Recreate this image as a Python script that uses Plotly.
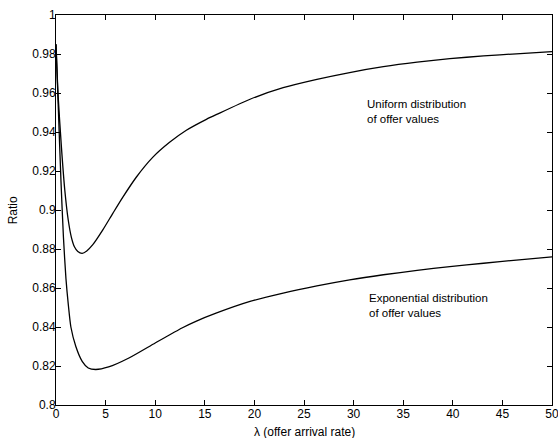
import plotly.graph_objects as go

# lambda (offer arrival rate) sample points
lam_uniform = [0.0, 0.22, 0.55, 0.89, 1.23, 1.55, 1.87, 2.2, 2.64, 3.1, 3.71, 4.72, 5.73,
               6.74, 8.09, 9.77, 11.45, 13.14, 15.16, 16.2, 19.56, 22.9, 26.3, 29.6, 33.0,
               36.4, 39.7, 43.1, 46.4, 50.0]
ratio_uniform = [0.985, 0.958, 0.932, 0.910, 0.895, 0.886, 0.881, 0.8787, 0.8778, 0.8790,
                 0.8822, 0.8898, 0.8983, 0.9066, 0.9168, 0.9271, 0.9347, 0.9409, 0.9465,
                 0.9490, 0.9568, 0.9627, 0.9670, 0.9705, 0.9735, 0.9758, 0.9776, 0.9790,
                 0.9801, 0.9812]

lam_expon = [0.0, 0.25, 0.5, 0.75, 1.0, 1.25, 1.5, 2.0, 2.64, 3.25, 4.0, 5.3, 7.35, 10.0,
             12.7, 14.1, 16.2, 19.56, 22.9, 26.3, 29.6, 33.0, 36.4, 39.7, 43.1, 46.4, 50.0]
ratio_expon = [0.985, 0.950, 0.915, 0.886, 0.865, 0.851, 0.8400, 0.8300, 0.8224, 0.8190,
               0.8182, 0.8195, 0.8241, 0.8318, 0.8395, 0.8429, 0.8472, 0.8531, 0.8574,
               0.8611, 0.8642, 0.8668, 0.8690, 0.8710, 0.8727, 0.8743, 0.8760]

x_ticks = [0, 5, 10, 15, 20, 25, 30, 35, 40, 45, 50]
y_ticks = [0.8, 0.82, 0.84, 0.86, 0.88, 0.9, 0.92, 0.94, 0.96, 0.98, 1]

labels = [
    ("Uniform distribution<br>of offer values", 31.1, 0.9505),
    ("Exponential distribution<br>of offer values", 31.3, 0.851),
]

FONT = "Liberation Sans, Arial, sans-serif"

fig = go.Figure()
for xs, ys in [(lam_uniform, ratio_uniform), (lam_expon, ratio_expon)]:
    fig.add_trace(go.Scatter(x=xs, y=ys, mode="lines",
                             line=dict(color="black", width=1.3, shape="spline", smoothing=0.6),
                             showlegend=False, hoverinfo="skip"))

for txt, x, y in labels:
    fig.add_annotation(x=x, y=y, text=txt, showarrow=False, xanchor="left", yanchor="middle",
                       align="left", font=dict(family=FONT, size=11.5, color="black"))

# axis titles placed as annotations for exact positioning
fig.add_annotation(x=0.5, y=-0.068, xref="paper", yref="paper", text="λ (offer arrival rate)",
                   showarrow=False, xanchor="center", yanchor="middle",
                   font=dict(family=FONT, size=12, color="black"))
fig.add_annotation(x=-0.086, y=0.5, xref="paper", yref="paper", text="Ratio", textangle=-90,
                   showarrow=False, xanchor="center", yanchor="middle",
                   font=dict(family=FONT, size=12, color="black"))

axis_common = dict(showline=True, linecolor="black", linewidth=1, mirror="ticks",
                   ticks="inside", ticklen=5, tickcolor="black", tickwidth=1,
                   showgrid=False, zeroline=False, automargin=False,
                   ticklabeloverflow="allow",
                   tickfont=dict(family=FONT, size=12, color="black"))

fig.update_xaxes(range=[0, 50], tickvals=x_ticks, ticklabelstandoff=-2, **axis_common)
fig.update_yaxes(range=[0.8, 1], tickvals=y_ticks, ticklabelstandoff=-3, **axis_common)

fig.update_layout(width=558, height=438, plot_bgcolor="white", paper_bgcolor="white",
                  margin=dict(l=56, r=6, t=15, b=33), hovermode=False)

fig.write_html("out.html", config={"displayModeBar": False, "staticPlot": True},
               post_script="document.body.style.margin='0px';document.body.style.overflow='hidden';")
